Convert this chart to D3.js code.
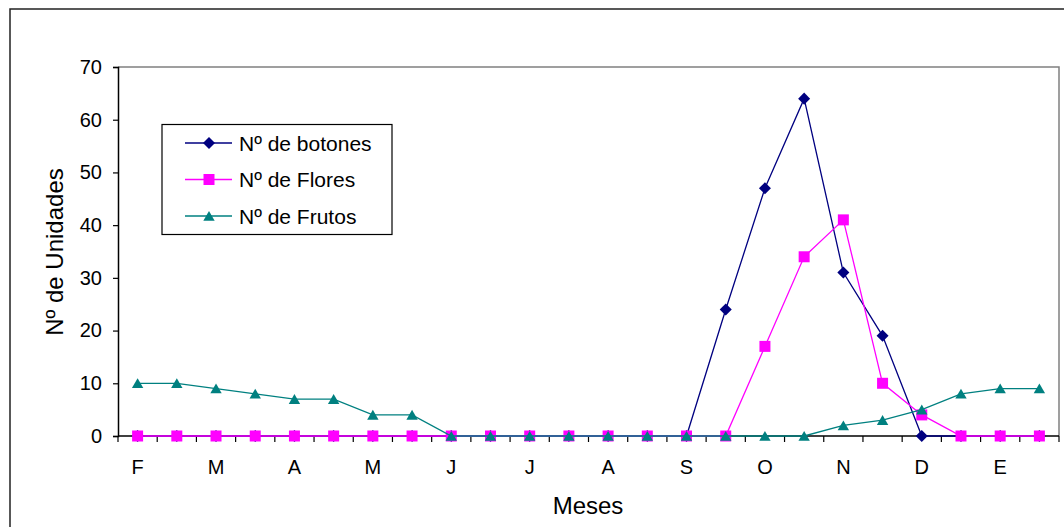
<!DOCTYPE html>
<html>
<head>
<meta charset="utf-8">
<script src="https://cdn.jsdelivr.net/npm/d3@7"></script>
<style>
  body { margin: 0; background: #fff; }
  svg text { font-family: Arial, "Liberation Sans", sans-serif; fill: #000; }
</style>
</head>
<body>
<div id="chart"></div>
<script>
// 24 quincenas, febrero -> enero
const categories = ["F","","M","","A","","M","","J","","J","","A","","S","","O","","N","","D","","E",""];
const botones = [0,0,0,0,0,0,0,0,0,0,0,0,0,0,0,24,47,64,31,19,0,0,0,0];
const flores  = [0,0,0,0,0,0,0,0,0,0,0,0,0,0,0,0,17,34,41,10,4,0,0,0];
const frutos  = [10,10,9,8,7,7,4,4,0,0,0,0,0,0,0,0,0,0,2,3,5,8,9,9];
const yTicks = [0,10,20,30,40,50,60,70];

const series = [
    { name: "Nº de botones", values: botones, color: "#000080", marker: d3.symbolDiamond2, size: 92, dy: 0 },
    { name: "Nº de Flores",  values: flores,  color: "#FF00FF", marker: d3.symbolSquare,   size: 121, dy: 0 },
    { name: "Nº de Frutos",  values: frutos,  color: "#008080", marker: d3.symbolTriangle, size: 56, dy: 1.5 }
];

const width = 1064, height = 527;
const plotL = 118, plotR = 1059, plotT = 67, plotB = 436;

const svg = d3.select("#chart").append("svg")
    .attr("width", width)
    .attr("height", height);

// marco exterior
svg.append("rect")
    .attr("x", 10).attr("y", 9)
    .attr("width", 1070).attr("height", 540)
    .attr("fill", "none")
    .attr("stroke", "#222")
    .attr("stroke-width", 1.5);

const idx = d3.range(categories.length);
const x = d3.scaleBand().domain(idx).range([plotL, plotR]);
const y = d3.scaleLinear().domain([0, 70]).range([plotB, plotT]);

// borde del area de trazado
svg.append("path")
    .attr("d", `M${plotL},${plotT}H${plotR}V${plotB}`)
    .attr("fill", "none")
    .attr("stroke", "#808080")
    .attr("stroke-width", 1.5);

// eje Y
const yAxis = svg.append("g")
    .attr("transform", `translate(${plotL},0)`)
    .call(d3.axisLeft(y).tickValues(yTicks).tickSize(5).tickPadding(11));
yAxis.select(".domain").attr("stroke", "#000").attr("stroke-width", 1.5);
yAxis.selectAll(".tick line").attr("stroke", "#000").attr("stroke-width", 1.2);
yAxis.selectAll("text").attr("font-size", 20).attr("fill", "#000");

// eje X: marcas entre categorias
const xAxis = svg.append("g")
    .attr("transform", `translate(0,${plotB})`);
xAxis.append("line")
    .attr("x1", plotL).attr("x2", plotR)
    .attr("stroke", "#000").attr("stroke-width", 1.5);
xAxis.selectAll(".tk")
    .data(d3.range(categories.length + 1))
    .enter().append("line")
    .attr("class", "tk")
    .attr("x1", d => plotL + d * x.bandwidth())
    .attr("x2", d => plotL + d * x.bandwidth())
    .attr("y1", 0).attr("y2", 6)
    .attr("stroke", "#000").attr("stroke-width", 1.2);
xAxis.selectAll(".lbl")
    .data(idx)
    .enter().append("text")
    .attr("class", "lbl")
    .attr("x", d => x(d) + x.bandwidth() / 2)
    .attr("y", 38)
    .attr("text-anchor", "middle")
    .attr("font-size", 20)
    .text(d => categories[d]);

// titulos de ejes
svg.append("text")
    .attr("x", 588).attr("y", 514)
    .attr("text-anchor", "middle")
    .attr("font-size", 24)
    .text("Meses");
svg.append("text")
    .attr("transform", "translate(63,252) rotate(-90)")
    .attr("text-anchor", "middle")
    .attr("font-size", 24)
    .text("Nº de Unidades");

// series
const cx = i => x(i) + x.bandwidth() / 2;
const line = d3.line().x((d, i) => cx(i)).y(d => y(d));

series.forEach(s => {
    const g = svg.append("g");
    g.append("path")
        .datum(s.values)
        .attr("d", line)
        .attr("fill", "none")
        .attr("stroke", s.color)
        .attr("stroke-width", 1.3);
    g.selectAll(".m")
        .data(s.values)
        .enter().append("path")
        .attr("class", "m")
        .attr("transform", (d, i) => `translate(${cx(i)},${y(d) + s.dy})`)
        .attr("d", d3.symbol().type(s.marker).size(s.size))
        .attr("fill", s.color);
});

// leyenda
const legend = svg.append("g");
legend.append("rect")
    .attr("x", 162).attr("y", 124.5)
    .attr("width", 230).attr("height", 110)
    .attr("fill", "#fff")
    .attr("stroke", "#000")
    .attr("stroke-width", 1.2);
const rows = legend.selectAll(".row")
    .data(series)
    .enter().append("g")
    .attr("class", "row")
    .attr("transform", (d, i) => `translate(0,${143 + i * 36.5})`);
rows.append("line")
    .attr("x1", 185).attr("x2", 232)
    .attr("stroke", d => d.color)
    .attr("stroke-width", 1.3);
rows.append("path")
    .attr("transform", d => `translate(209,${d.dy})`)
    .attr("d", d => d3.symbol().type(d.marker).size(d.size)())
    .attr("fill", d => d.color);
rows.append("text")
    .attr("x", 239).attr("y", 7.5)
    .attr("font-size", 21)
    .text(d => d.name);
</script>
</body>
</html>
